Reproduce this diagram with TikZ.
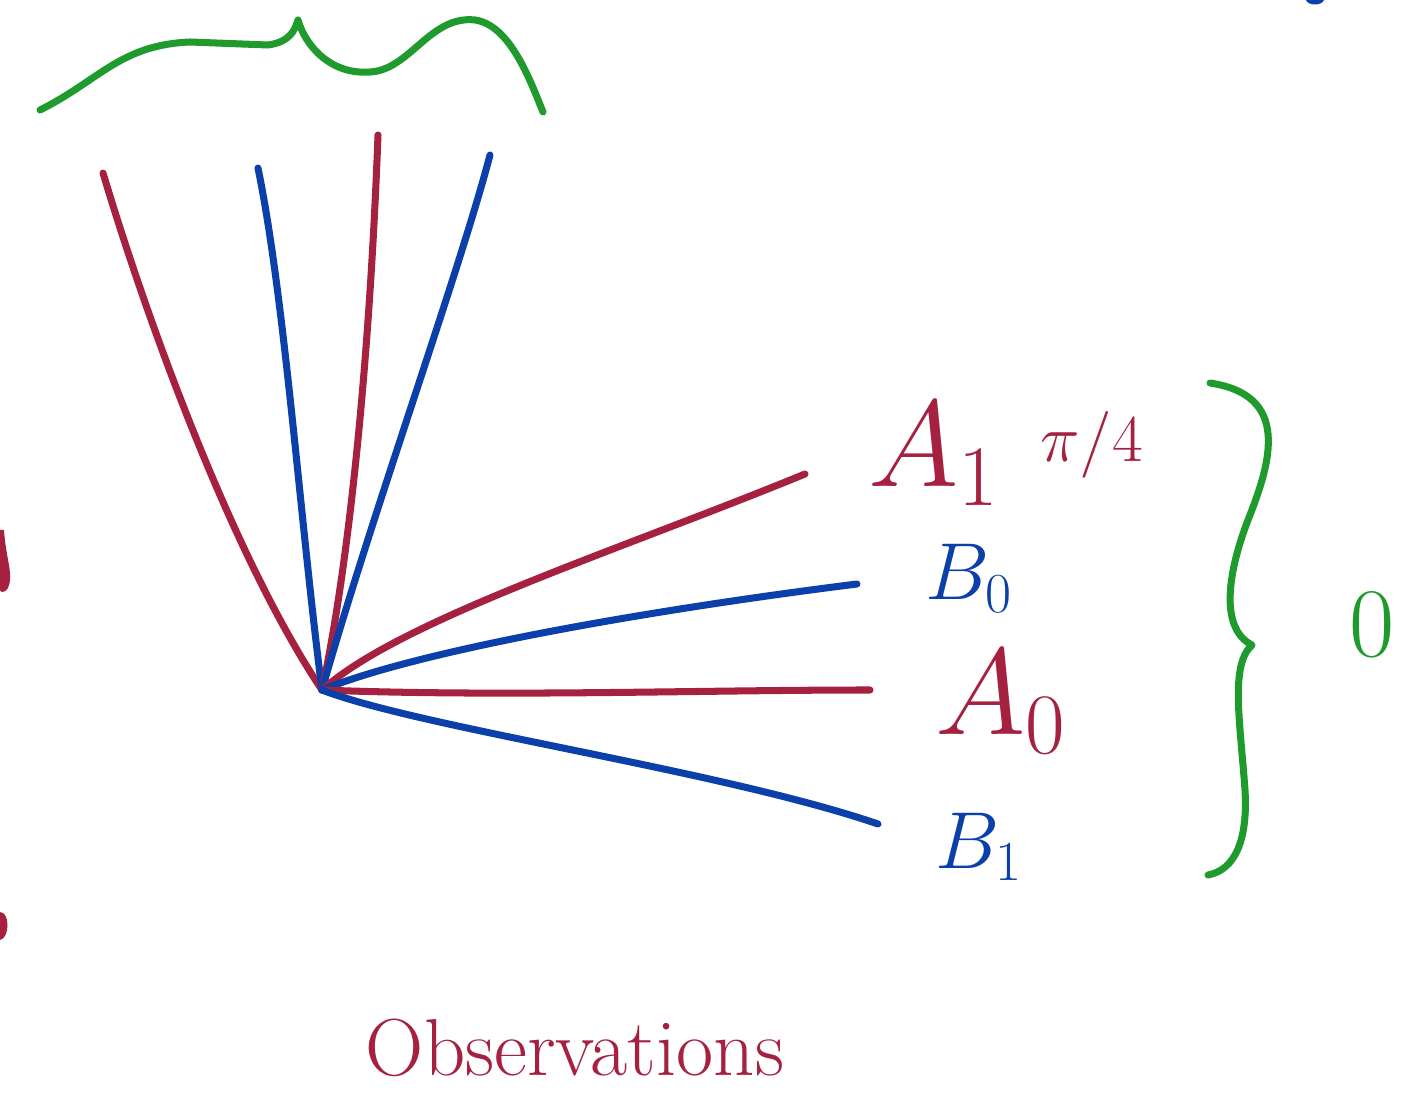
\RequirePackage{fix-cm}
\documentclass[tikz,border=0pt]{standalone}
\usepackage{amsmath,amssymb}
\usepackage{xcolor}
\usetikzlibrary{positioning,calc}

\definecolor{ink red}{HTML}{A6203F}
\definecolor{ink blue}{HTML}{0B3FAA}
\definecolor{ink green}{HTML}{1F9A2C}

\begin{document}
\begin{tikzpicture}[
  x=0.02cm, y=-0.02cm,
  stroke/.style   = {line width=4pt, line cap=round, line join=round},
  redline/.style  = {stroke, draw=ink red},
  blueline/.style = {stroke, draw=ink blue},
  bracket/.style  = {stroke, draw=ink green},
  label/.style    = {inner sep=0pt, anchor=base west},
  big/.style      = {font=\fontsize{70}{74}\selectfont},
  mid/.style      = {font=\fontsize{46}{50}\selectfont}
]
  \useasboundingbox (0,0) rectangle (1411,1094);

  % Common origin and line ends
  \coordinate (o)  at (322,690);
  \coordinate (r1) at (103,173);
  \coordinate (b1) at (258,168);
  \coordinate (r2) at (378,135);
  \coordinate (b2) at (490,155);
  \coordinate (r3) at (805,474);
  \coordinate (b3) at (857,584);
  \coordinate (r4) at (870,690);
  \coordinate (b4) at (878,824);

  % Upper fan
  \draw[redline]  (r1) .. controls (150,330) and (235,560) .. (o);
  \draw[blueline] (b1) .. controls (285,300) and (300,520) .. (o);
  \draw[redline]  (r2) .. controls (370,350) and (350,560) .. (o);
  \draw[blueline] (b2) .. controls (460,270) and (370,520) .. (o);

  % Right fan
  \draw[redline]  (r3) .. controls (620,550) and (400,620) .. (o);
  \draw[blueline] (b3) .. controls (650,610) and (420,650) .. (o);
  \draw[redline]  (r4) .. controls (700,690) and (500,697) .. (o);
  \draw[blueline] (b4) .. controls (720,770) and (420,728) .. (o);

  % Labels of the right fan
  \node[label, big, text=ink red]  (a1l) at (868,487) {$A_1$};
  \node[label, text=ink red, font=\fontsize{38}{42}\selectfont]
       (pi4) at (1040,462) {$\pi/4$};
  \node[label, mid, text=ink blue] (b0l) at (925,600) {$B_0$};
  \node[label, big, text=ink red]  (a0l) at (935,735) {$A_0$};
  \node[label, mid, text=ink blue] (b1l) at (935,868) {$B_1$};

  % Braces
  \draw[bracket] (40,110) .. controls (100,80) and (120,45) .. (190,42)
    -- (268,45) .. controls (290,42) and (295,30) .. (298,20)
    .. controls (305,45) and (330,75) .. (370,72)
    .. controls (410,70) and (430,15) .. (475,20)
    .. controls (510,25) and (530,80) .. (543,112);
  \draw[bracket] (1210,383) .. controls (1290,395) and (1272,460) .. (1248,520)
    .. controls (1225,580) and (1222,630) .. (1252,645)
    .. controls (1230,665) and (1240,720) .. (1245,790)
    .. controls (1248,840) and (1235,870) .. (1208,875);
  \node[text=ink green, font=\fontsize{56}{60}\selectfont] (zero) at (1372,625) {0};

  \node[text=ink red, inner sep=0pt, anchor=base, mid] (obs) at (575,1075) {Observations};

  % Cut-off strokes at the edges
  \fill[ink red] (0,530) -- (4,530) .. controls (6,560) and (14,575) .. (8,588)
    .. controls (4,594) and (0,592) .. (0,590) -- cycle;
  \fill[ink red] (0,912) .. controls (10,912) and (10,938) .. (0,940) -- cycle;
  \fill[ink blue] (1306,0) .. controls (1308,6) and (1322,6) .. (1324,0) -- cycle;
\end{tikzpicture}
\end{document}
